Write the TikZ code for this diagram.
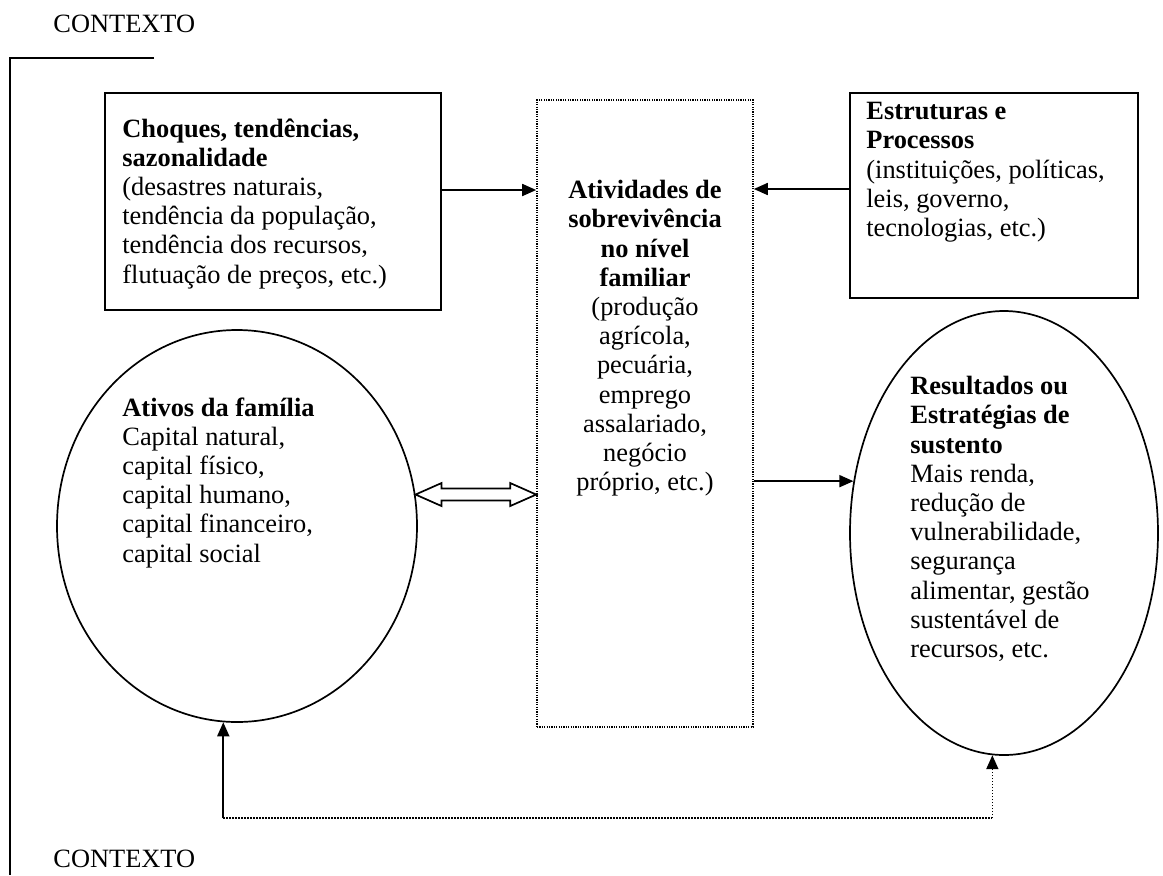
\documentclass[tikz,border=0pt]{standalone}
\usepackage{fontspec}
\setmainfont{Liberation Serif}
\usetikzlibrary{arrows.meta,shapes.geometric,calc}
\begin{document}
\begin{tikzpicture}[x=0.5pt,y=-0.5pt,
  txt/.style={font=\fontsize{13.2}{14.6}\selectfont, inner sep=0pt},
  box/.style={draw, line width=1pt, inner sep=0pt},
  dbox/.style={draw, line width=0.8pt, dash pattern=on 0.6pt off 0.6pt, inner sep=0pt},
  oval/.style={draw, ellipse, line width=0.85pt, inner sep=0pt},
  arr/.style={line width=0.85pt, -{Triangle[length=7pt,width=6pt]}},
  dotln/.style={line width=0.85pt, dash pattern=on 0.7pt off 0.8pt},
  frame/.style={line width=1pt}]
\useasboundingbox (0,0) rectangle (1163,875);

% context frame
\node[txt, anchor=base west] (ctxtop) at (53,32) {CONTEXTO};
\node[txt, anchor=base west] (ctxbot) at (53,867) {CONTEXTO};
\coordinate (fa) at (154,58);
\coordinate (fb) at (10,58);
\coordinate (fc) at (10,875);
\draw[frame] (fa) -- (fb) -- (fc);

% boxes
\node[box, minimum width=168pt, minimum height=108.5pt] (lbox) at (273,201.5) {};
\node[dbox, minimum width=108pt, minimum height=313.5pt] (cbox) at (645,413.5) {};
\node[box, minimum width=144pt, minimum height=102.5pt] (rbox) at (994,195.5) {};

% ellipses
\node[oval, minimum width=180pt, minimum height=196pt] (lell) at (237,526) {};
\node[oval, minimum width=154pt, minimum height=222pt] (rell) at (1004,533) {};

% texts
\node[txt, anchor=north west, align=left] (ltxt) at (122,118)
  {\textbf{Choques, tendências,}\\\textbf{sazonalidade}\\(desastres naturais,\\tendência da população,\\tendência dos recursos,\\flutuação de preços, etc.)};
\node[txt, anchor=north, align=center] (ctxt) at (645,180)
  {\textbf{Atividades de}\\\textbf{sobrevivência}\\\textbf{no nível}\\\textbf{familiar}\\(produção\\agrícola,\\pecuária,\\emprego\\assalariado,\\negócio\\próprio, etc.)};
\node[txt, anchor=north west, align=left] (rtxt) at (866,102)
  {\textbf{Estruturas e}\\\textbf{Processos}\\(instituições, políticas,\\leis, governo,\\tecnologias, etc.)};
\node[txt, anchor=north west, align=left] (letxt) at (122,397)
  {\textbf{Ativos da família}\\Capital natural,\\capital físico,\\capital humano,\\capital financeiro,\\capital social};
\node[txt, anchor=north west, align=left] (retxt) at (910,376)
  {\textbf{Resultados ou}\\\textbf{Estratégias de}\\\textbf{sustento}\\Mais renda,\\redução de\\vulnerabilidade,\\segurança\\alimentar, gestão\\sustentável de\\recursos, etc.};

% connectors
\draw[arr] (lbox.east |- 0,190) -- (cbox.west |- 0,190);
\draw[arr] (rbox.west |- 0,189) -- (cbox.east |- 0,189);
\draw[arr] (cbox.east |- rell.161.6) -- (rell.161.6);

% double hollow arrow
\coordinate (dl) at (lell.10.5);
\coordinate (dr) at (cbox.west |- dl);
\draw[line width=0.85pt, fill=white] (dl) -- ++(26,-11.5) -- ++(0,5.5)
  -- ($(dr)+(-26,-6)$) -- ++(0,-5.5) -- (dr) -- ++(-26,11.5) -- ++(0,-5.5)
  -- ($(dl)+(26,6)$) -- ++(0,5.5) -- cycle;

% feedback loop
\coordinate (b1) at (lell.266.8 |- 0,818);
\coordinate (b2) at (rell.267.2 |- 0,818);
\draw[dotln] (b1) -- (b2);
\draw[arr] (b1) -- (lell.266.8);
\draw[dotln, -{Triangle[length=7pt,width=6pt]}] (b2) -- (rell.267.2);
\end{tikzpicture}
\end{document}
